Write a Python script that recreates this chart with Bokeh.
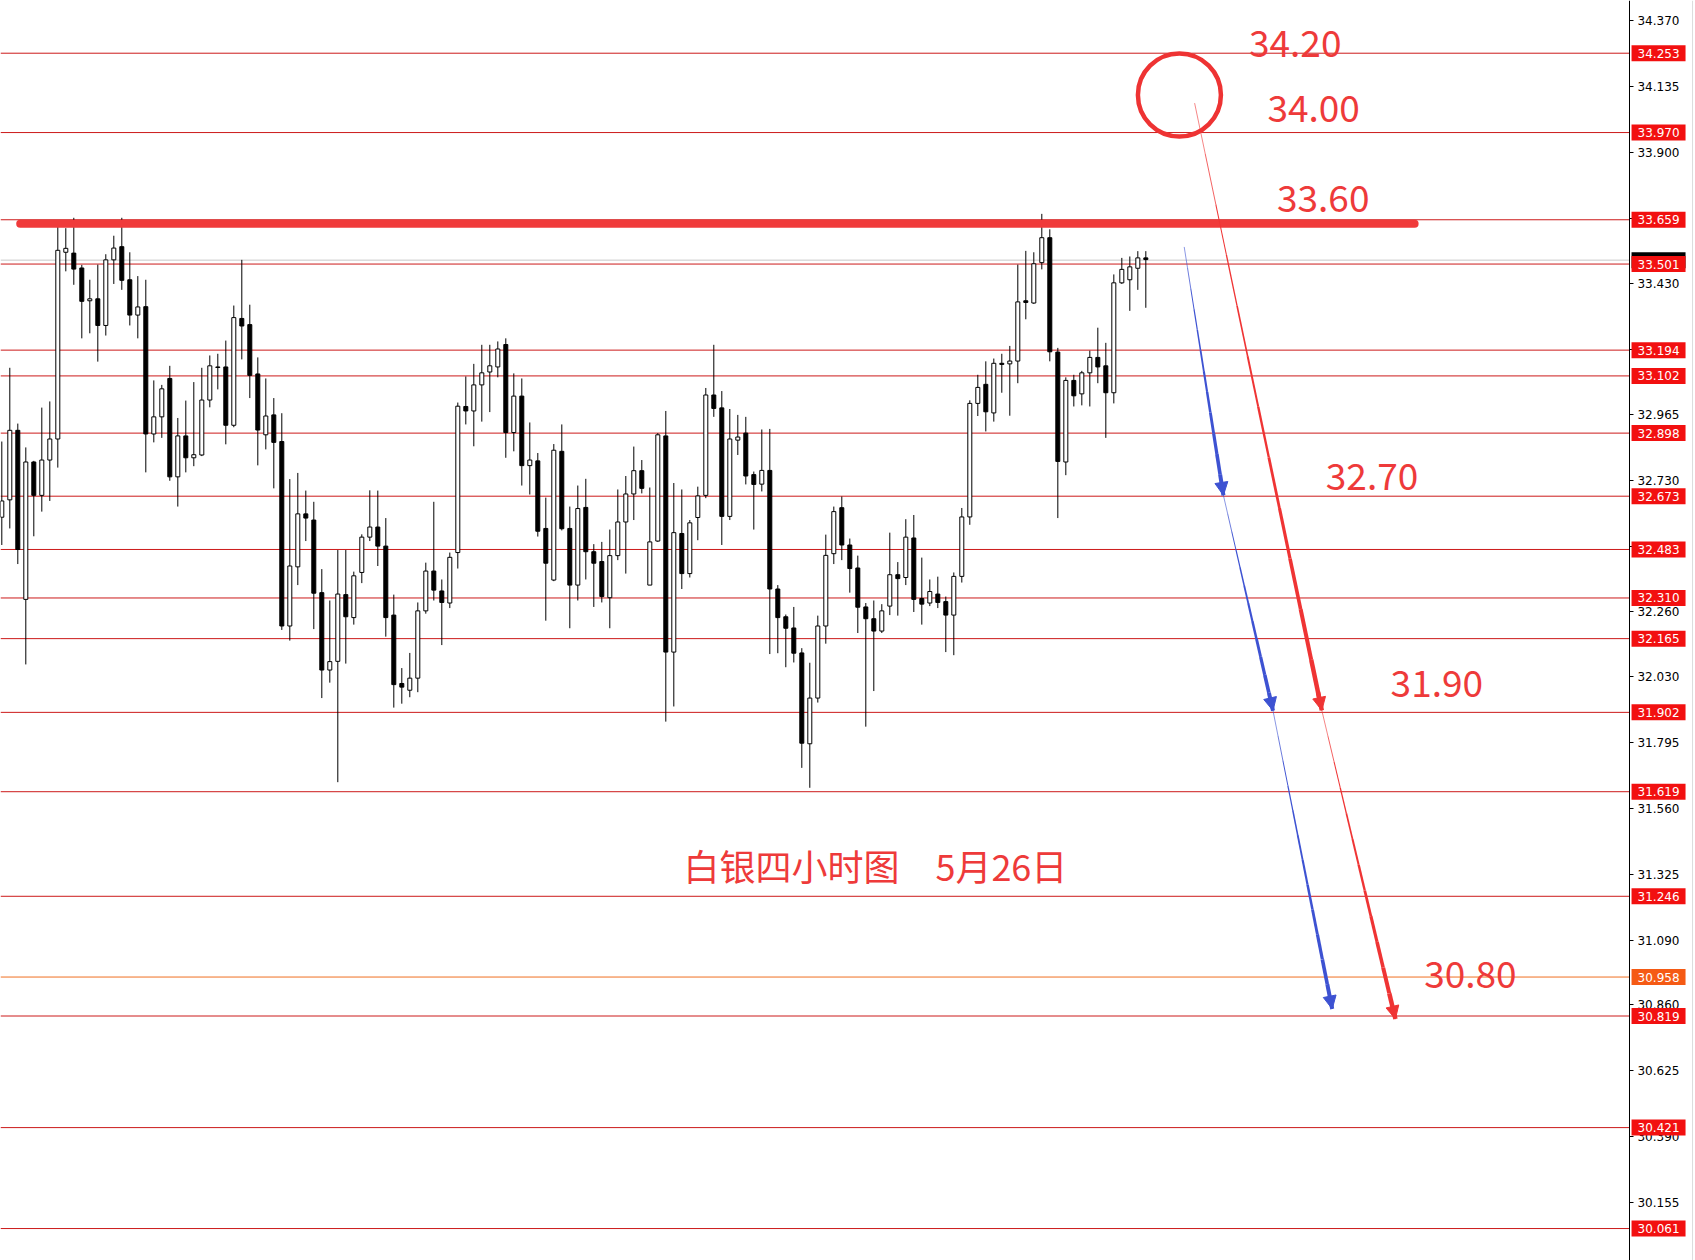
from bokeh.plotting import figure
from bokeh.models import Range1d, FixedTicker, Arrow, NormalHead, PrintfTickFormatter, ColumnDataSource
from bokeh.embed import file_html
from bokeh.resources import INLINE
from bokeh.core.properties import value

# ---------------- data (silver, 4h candles) ----------------
opens = [32.598, 32.660, 32.908, 32.305, 32.795, 32.676, 32.802, 32.877, 33.543, 33.540,
         33.487, 33.370, 33.377, 33.282, 33.516, 33.563, 33.445, 33.319, 33.349, 32.895,
         32.956, 33.093, 32.742, 32.888, 32.810, 32.820, 33.016, 33.134, 33.134, 32.926,
         33.307, 33.285, 33.109, 32.892, 32.963, 32.868, 32.210, 32.421, 32.610, 32.588,
         32.329, 32.053, 32.084, 32.322, 32.240, 32.401, 32.527, 32.563, 32.495, 32.249,
         32.005, 31.981, 32.024, 32.264, 32.406, 32.335, 32.292, 32.472, 32.993, 32.977,
         33.070, 33.116, 33.134, 33.214, 32.900, 33.030, 32.782, 32.799, 32.558, 32.374,
         32.833, 32.558, 32.356, 32.633, 32.475, 32.440, 32.311, 32.461, 32.581, 32.681,
         32.764, 32.356, 32.513, 32.888, 32.117, 32.540, 32.397, 32.597, 32.676, 33.034,
         32.988, 32.601, 32.873, 32.898, 32.750, 32.716, 32.765, 32.342, 32.243, 32.203,
         32.114, 31.790, 31.953, 32.210, 32.468, 32.632, 32.499, 32.417, 32.278, 32.236,
         32.192, 32.281, 32.393, 32.383, 32.524, 32.308, 32.292, 32.324, 32.297, 32.249,
         32.387, 32.599, 33.004, 33.072, 32.970, 33.147, 33.145, 33.155, 33.370, 33.362,
         33.506, 33.595, 33.187, 32.795, 33.086, 33.038, 33.113, 33.168, 33.138, 33.042,
         33.434, 33.445, 33.486, 33.523]
highs = [32.868, 33.131, 32.932, 32.847, 32.799, 32.989, 33.011, 33.656, 33.629, 33.666,
         33.498, 33.445, 33.499, 33.536, 33.602, 33.666, 33.543, 33.458, 33.445, 33.086,
         33.070, 33.138, 32.952, 33.014, 33.080, 33.131, 33.175, 33.181, 33.228, 33.353,
         33.516, 33.356, 33.168, 33.093, 33.023, 32.969, 32.734, 32.756, 32.693, 32.653,
         32.413, 32.301, 32.481, 32.481, 32.404, 32.537, 32.694, 32.693, 32.595, 32.322,
         32.060, 32.114, 32.294, 32.436, 32.653, 32.376, 32.472, 33.007, 33.100, 33.145,
         33.213, 33.213, 33.225, 33.236, 33.111, 33.093, 32.936, 32.827, 32.668, 32.859,
         32.929, 32.636, 32.711, 32.735, 32.502, 32.510, 32.554, 32.697, 32.745, 32.850,
         32.802, 32.704, 32.898, 32.977, 32.720, 32.697, 32.588, 32.707, 33.059, 33.213,
         33.048, 32.984, 32.963, 32.956, 32.761, 32.911, 32.913, 32.356, 32.251, 32.278,
         32.131, 32.079, 32.247, 32.536, 32.636, 32.672, 32.522, 32.461, 32.292, 32.301,
         32.288, 32.543, 32.438, 32.591, 32.606, 32.454, 32.376, 32.386, 32.315, 32.401,
         32.631, 33.015, 33.106, 33.154, 33.164, 33.181, 33.209, 33.499, 33.548, 33.543,
         33.680, 33.625, 33.202, 33.097, 33.106, 33.120, 33.192, 33.274, 33.220, 33.464,
         33.523, 33.528, 33.547, 33.547]
lows = [32.499, 32.558, 32.431, 32.073, 32.530, 32.618, 32.656, 32.775, 33.475, 33.427,
        33.236, 33.254, 33.153, 33.246, 33.430, 33.409, 33.282, 33.236, 32.758, 32.865,
        32.881, 32.728, 32.636, 32.758, 32.780, 32.816, 32.990, 33.054, 32.858, 32.919,
        33.161, 33.023, 32.783, 32.840, 32.701, 32.196, 32.158, 32.356, 32.513, 32.199,
        31.953, 32.008, 31.653, 32.076, 32.215, 32.363, 32.513, 32.424, 32.172, 31.919,
        31.933, 31.956, 31.974, 32.254, 32.301, 32.142, 32.274, 32.415, 32.929, 32.851,
        32.939, 32.973, 33.097, 32.810, 32.833, 32.711, 32.679, 32.529, 32.229, 32.370,
        32.551, 32.202, 32.301, 32.376, 32.278, 32.294, 32.202, 32.445, 32.397, 32.588,
        32.683, 32.356, 32.510, 31.869, 31.923, 32.342, 32.383, 32.516, 32.666, 32.956,
        32.499, 32.588, 32.820, 32.715, 32.554, 32.690, 32.110, 32.113, 32.063, 32.080,
        31.704, 31.633, 31.937, 32.147, 32.431, 32.445, 32.329, 32.185, 31.851, 31.978,
        32.185, 32.249, 32.247, 32.356, 32.260, 32.215, 32.281, 32.274, 32.117, 32.106,
        32.365, 32.571, 32.959, 32.904, 32.939, 33.042, 32.960, 33.076, 33.304, 33.359,
        33.482, 33.154, 32.595, 32.748, 32.993, 32.997, 32.993, 33.076, 32.881, 33.004,
        33.430, 33.334, 33.409, 33.345]
closes = [32.656, 32.908, 32.483, 32.795, 32.676, 32.802, 32.877, 33.550, 33.557, 33.483,
          33.368, 33.377, 33.282, 33.516, 33.558, 33.443, 33.319, 33.348, 32.895, 32.956,
          33.056, 32.742, 32.888, 32.810, 32.821, 33.016, 33.138, 33.132, 32.926, 33.310,
          33.280, 33.104, 32.909, 32.959, 32.865, 32.210, 32.424, 32.610, 32.595, 32.327,
          32.053, 32.083, 32.324, 32.243, 32.389, 32.527, 32.563, 32.495, 32.240, 32.001,
          31.992, 32.024, 32.264, 32.406, 32.338, 32.294, 32.455, 32.994, 32.977, 33.070,
          33.113, 33.138, 33.198, 32.900, 33.030, 32.782, 32.802, 32.548, 32.434, 32.837,
          32.557, 32.356, 32.629, 32.475, 32.434, 32.315, 32.461, 32.581, 32.681, 32.764,
          32.701, 32.510, 32.892, 32.117, 32.543, 32.397, 32.578, 32.674, 33.034, 32.986,
          32.601, 32.877, 32.884, 32.745, 32.715, 32.765, 32.342, 32.240, 32.202, 32.113,
          31.792, 31.953, 32.210, 32.462, 32.618, 32.499, 32.415, 32.277, 32.236, 32.192,
          32.264, 32.393, 32.379, 32.527, 32.305, 32.288, 32.333, 32.294, 32.249, 32.387,
          32.599, 33.004, 33.061, 32.974, 33.147, 33.143, 33.155, 33.366, 33.364, 33.502,
          33.595, 33.188, 32.797, 33.086, 33.031, 33.113, 33.168, 33.134, 33.042, 33.434,
          33.482, 33.491, 33.523, 33.517]
bars = list(range(len(opens)))

# horizontal levels drawn on chart (red), orange level, current price
red_levels = [34.253, 33.970, 33.659, 33.501, 33.194, 33.102, 32.898, 32.673, 32.483,
              32.310, 32.165, 31.902, 31.619, 31.246, 30.819, 30.421, 30.061]
orange_level = 30.958
last_price = 33.515
axis_ticks = [34.370, 34.135, 33.900, 33.665, 33.430, 33.195, 32.965, 32.730, 32.495, 32.260,
              32.030, 31.795, 31.560, 31.325, 31.090, 30.860, 30.625, 30.390, 30.155]

# annotations: target labels
target_text = ["34.20", "34.00", "33.60", "32.70", "31.90", "30.80"]
target_x = [155.9, 158.2, 159.4, 165.5, 173.6, 177.8]
target_y = [34.287, 34.056, 33.736, 32.745, 32.004, 30.967]
title_text = "白银四小时图\u30005月26日"
resistance = 33.645

# arrows (bar index, price)
red_path_x = [149.1, 165.0, 174.2]
red_path_y = [34.075, 31.909, 30.808]
blue_path_x = [147.8, 152.7, 158.9, 166.3]
blue_path_y = [33.562, 32.676, 31.908, 30.844]
circle_x, circle_y = 147.2, 34.104

RED_TXT = "#ee3a3a"
LINE_RED = "#cc1a1a"
BLUE = "#3d52d2"

X0, X_AXIS, X1 = -0.1625, 203.46, 211.71   # left edge, price-scale position, right edge
LABEL_XC = 207.09                           # centre of the price boxes
X_EDGE = 211.34                             # thin border at far right

p = figure(frame_width=1695, frame_height=1260,
           x_range=Range1d(X0, X1), y_range=Range1d(29.947, 34.441),
           x_axis_location=None, y_axis_location="right",
           toolbar_location=None, output_backend="svg",
           min_border_left=0, min_border_top=0, min_border_bottom=0, min_border_right=0)
p.outline_line_color = None
p.grid.visible = False
p.background_fill_color = "white"
p.border_fill_color = "white"

ax = p.yaxis[0]
ax.fixed_location = X_AXIS
ax.ticker = FixedTicker(ticks=axis_ticks)
ax.formatter = PrintfTickFormatter(format="%.3f")
ax.major_tick_in = 0
ax.major_tick_out = 4
ax.minor_tick_line_color = None
ax.axis_line_color = "black"
ax.major_tick_line_color = "black"
ax.major_label_text_font = "DejaVu Sans"
ax.major_label_text_font_size = "12px"
ax.major_label_text_color = "black"
ax.major_label_standoff = 4

# right border line
p.segment(x0=[X_EDGE], y0=[29.947], x1=[X_EDGE], y1=[34.441], line_color="#dcdcdc", line_width=1)

# levels (stop at the price scale)
p.segment(x0=[X0], y0=[last_price], x1=[X_AXIS], y1=[last_price], line_color="#c8c8c8", line_width=1)
p.segment(x0=[X0] * len(red_levels), y0=red_levels, x1=[X_AXIS] * len(red_levels), y1=red_levels,
          line_color=LINE_RED, line_width=1)
p.segment(x0=[X0], y0=[orange_level], x1=[X_AXIS], y1=[orange_level], line_color="#f07020", line_width=1)

# candles
src = ColumnDataSource(dict(x=bars, o=opens, h=highs, l=lows, c=closes,
                            top=[max(a, b) for a, b in zip(opens, closes)],
                            bot=[min(a, b) for a, b in zip(opens, closes)],
                            fill=["white" if c >= o else "black" for o, c in zip(opens, closes)]))
p.segment(x0="x", y0="h", x1="x", y1="l", source=src, line_color="black", line_width=1)
p.vbar(x="x", top="top", bottom="bot", width=0.5, source=src,
       fill_color="fill", line_color="black", line_width=1)

# thick resistance line
p.segment(x0=[2.3], y0=[resistance], x1=[176.6], y1=[resistance],
          line_color="#f03a3a", line_width=8, line_cap="round")

# circle
p.scatter(x=[circle_x], y=[circle_y], marker="circle", size=83,
          fill_color=None, line_color="#ee3333", line_width=4.5)


def tapered(xs, ys, color, wmax):
    for k in range(len(xs) - 1):
        x0, y0, x1, y1 = xs[k], ys[k], xs[k + 1], ys[k + 1]
        n = 12
        sx0, sy0, sx1, sy1, ww = [], [], [], [], []
        for j in range(n):
            t0, t1 = j / n, (j + 1) / n
            sx0.append(x0 + (x1 - x0) * t0)
            sy0.append(y0 + (y1 - y0) * t0)
            sx1.append(x0 + (x1 - x0) * t1)
            sy1.append(y0 + (y1 - y0) * t1)
            ww.append(0.6 + (wmax - 0.6) * (j / (n - 1)) ** 1.3)
        s = ColumnDataSource(dict(x0=sx0, y0=sy0, x1=sx1, y1=sy1, w=ww))
        p.segment(x0="x0", y0="y0", x1="x1", y1="y1", line_width="w", source=s,
                  line_color=color)
        p.add_layout(Arrow(end=NormalHead(size=13, fill_color=color, line_color=color, line_width=1),
                           x_start=x0 + (x1 - x0) * 0.97, y_start=y0 + (y1 - y0) * 0.97,
                           x_end=x1, y_end=y1, line_color=color, line_width=wmax))


tapered(red_path_x, red_path_y, "#ef3434", 4.5)
tapered(blue_path_x, blue_path_y, BLUE, 4.0)

# texts
p.text(x=target_x, y=target_y, text=target_text, text_font=value("Noto Sans CJK SC"),
       text_font_size="37px", text_color=RED_TXT, text_baseline="middle", text_align="left")
p.text(x=[85.2], y=[31.357], text=[title_text], text_font=value("Noto Sans CJK SC"),
       text_font_size="36px", text_color=RED_TXT, text_baseline="middle", text_align="left")


# price boxes on the price scale (drawn above the axis); current price first, levels over it
def price_boxes(levels, colors):
    s = ColumnDataSource(dict(x=[LABEL_XC] * len(levels), y=levels, c=colors,
                              t=[f"{v:.3f}" for v in levels]))
    p.rect(x="x", y="y", width=54, height=16, width_units="screen", height_units="screen",
           fill_color="c", line_color=None, source=s, level="overlay")
    p.text(x="x", y="y", text="t", text_color="white", text_font=value("DejaVu Sans"),
           text_font_size="12px", text_align="center", text_baseline="middle",
           source=s, level="overlay")


price_boxes([last_price], ["black"])
price_boxes(red_levels + [orange_level], ["#f21010"] * len(red_levels) + ["#f55a14"])

open("out.html", "w").write(file_html(p, INLINE))
